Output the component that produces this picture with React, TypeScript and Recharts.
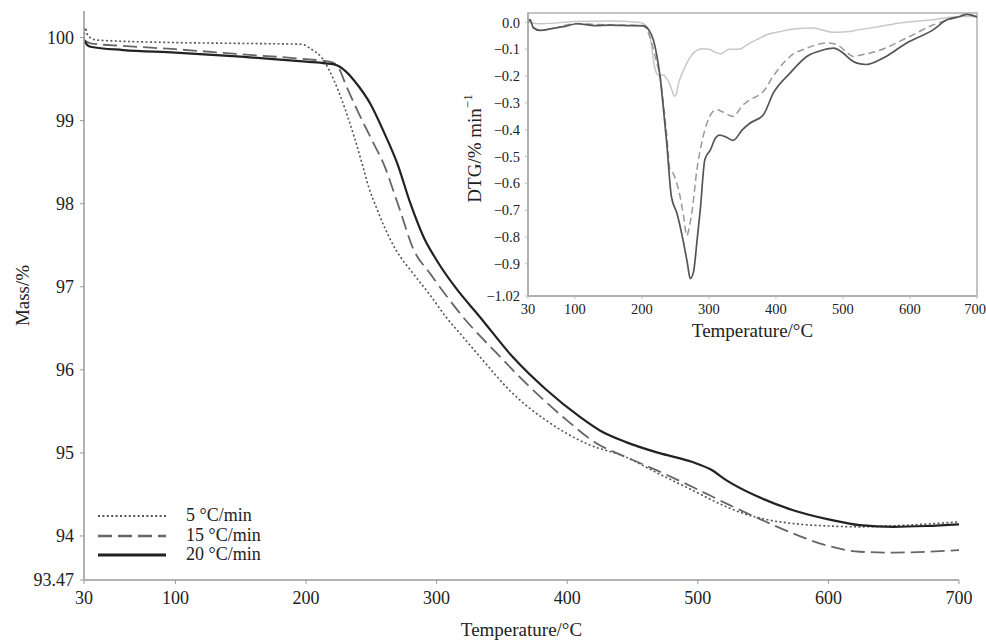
import React from 'react';
import { LineChart, Line, XAxis, YAxis, Legend, Label, ReferenceArea } from 'recharts';

const serif = '"Liberation Serif", "Times New Roman", serif';

// TG curves (mass % vs temperature) for each heating rate
const temps5 = [30, 31, 33, 40, 100, 150, 196, 205, 212, 218, 225, 231, 237, 243, 248, 254, 260, 269, 282, 295, 307, 320, 333, 358, 384, 415, 445, 470, 496, 515, 535, 555, 573, 600, 624, 660, 700];
const mass5 = [99.98, 100.12, 100.02, 99.97, 99.94, 99.93, 99.92, 99.85, 99.76, 99.6, 99.35, 99.09, 98.8, 98.48, 98.2, 97.95, 97.72, 97.44, 97.16, 96.9, 96.64, 96.4, 96.16, 95.72, 95.39, 95.11, 94.95, 94.75, 94.55, 94.4, 94.27, 94.19, 94.15, 94.12, 94.11, 94.13, 94.17];

const temps15 = [30, 35, 60, 100, 150, 200, 218, 224, 231, 240, 250, 261, 267, 272, 282, 295, 308, 320, 346, 371, 397, 422, 445, 470, 496, 522, 548, 573, 600, 624, 650, 675, 700];
const mass15 = [99.97, 99.93, 99.9, 99.86, 99.8, 99.74, 99.71, 99.66, 99.41, 99.1, 98.78, 98.42, 98.15, 97.92, 97.46, 97.16, 96.88, 96.64, 96.2, 95.8, 95.43, 95.12, 94.95, 94.78, 94.59, 94.39, 94.2, 94.03, 93.88, 93.81, 93.8, 93.81, 93.83];

const temps20 = [30, 32, 35, 60, 100, 150, 200, 215, 223, 230, 240, 249, 260, 270, 280, 290, 300, 315, 333, 358, 384, 410, 425, 445, 470, 496, 510, 522, 545, 573, 600, 624, 650, 675, 700];
const mass20 = [99.97, 99.92, 99.89, 99.85, 99.82, 99.77, 99.71, 99.69, 99.67, 99.6, 99.42, 99.21, 98.85, 98.48, 98.0, 97.6, 97.32, 96.98, 96.64, 96.16, 95.76, 95.43, 95.27, 95.13, 95.0, 94.89, 94.8, 94.67, 94.48, 94.31, 94.2, 94.13, 94.11, 94.12, 94.14];

// DTG curves for the inset
const dtgT5 = [30, 50, 100, 150, 197, 205, 210, 214, 217, 222, 227, 232, 237, 242, 245, 248, 251, 254, 260, 267, 275, 282, 290, 300, 310, 318, 330, 345, 361, 375, 386, 405, 426, 456, 472, 486, 505, 525, 555, 585, 635, 675, 700];
const dtg5 = [0.0, -0.005, 0.003, 0.005, 0.0, -0.01, -0.03, -0.08, -0.14, -0.19, -0.2, -0.195, -0.21, -0.233, -0.255, -0.275, -0.27, -0.233, -0.19, -0.152, -0.12, -0.104, -0.098, -0.1, -0.112, -0.117, -0.1, -0.1, -0.077, -0.06, -0.046, -0.035, -0.025, -0.021, -0.03, -0.037, -0.035, -0.027, -0.015, -0.002, 0.01, 0.022, 0.022];

const dtgT15 = [30, 33, 38, 48, 68, 103, 152, 202, 208, 215, 222, 227, 232, 237, 242, 247, 252, 257, 262, 267, 271, 275, 282, 290, 297, 305, 312, 320, 336, 350, 361, 381, 396, 421, 446, 476, 491, 505, 515, 530, 550, 595, 635, 665, 685, 700];
const dtg15 = [0.0, 0.01, -0.02, -0.03, -0.022, -0.005, -0.01, -0.012, -0.03, -0.08, -0.15, -0.2, -0.3, -0.42, -0.55, -0.565, -0.6, -0.65, -0.72, -0.795, -0.76, -0.7, -0.55, -0.44, -0.376, -0.335, -0.326, -0.333, -0.351, -0.31, -0.289, -0.258, -0.2, -0.127, -0.096, -0.077, -0.083, -0.11, -0.127, -0.12, -0.108, -0.058, -0.009, 0.015, 0.03, 0.02];

const dtgT20 = [30, 33, 38, 48, 68, 85, 103, 130, 152, 182, 202, 210, 217, 222, 227, 232, 237, 244, 252, 262, 268, 272, 277, 282, 287, 294, 302, 310, 316, 326, 336, 350, 361, 381, 396, 421, 446, 470, 486, 500, 512, 521, 535, 560, 595, 635, 655, 675, 685, 700];
const dtg20 = [0.0, 0.01, -0.02, -0.03, -0.022, -0.015, -0.005, -0.012, -0.01, -0.012, -0.013, -0.027, -0.065, -0.12, -0.2, -0.32, -0.45, -0.65, -0.71, -0.82, -0.9, -0.955, -0.93, -0.82, -0.7, -0.51, -0.476, -0.43, -0.42, -0.428, -0.44, -0.4, -0.376, -0.345, -0.264, -0.189, -0.127, -0.103, -0.096, -0.114, -0.14, -0.152, -0.157, -0.133, -0.077, -0.027, 0.01, 0.022, 0.03, 0.02];

const tempTicks = [30, 100, 200, 300, 400, 500, 600, 700];
const massTicks = [93.47, 94, 95, 96, 97, 98, 99, 100];
const dtgTicks = [-1.02, -0.9, -0.8, -0.7, -0.6, -0.5, -0.4, -0.3, -0.2, -0.1, 0];

const rateNames = ['5 °C/min', '15 °C/min', '20 °C/min'];

const zip = (t: number[], v: number[]) => t.map((x, i) => ({ t: x, v: v[i] }));

const mainStyles: Record<string, { stroke: string; width: number; dash?: string }> = {
  '5 °C/min': { stroke: '#555', width: 1.6, dash: '2 2.4' },
  '15 °C/min': { stroke: '#666', width: 1.8, dash: '14 6' },
  '20 °C/min': { stroke: '#222', width: 2.2 },
};

const fmtMass = (v: number) => (v === 93.47 ? '93.47' : String(v));
const fmtDtg = (v: number) => {
  if (v === 0) return '0.0';
  if (v === -1.02) return '\u22121.02';
  return '\u2212' + Math.abs(v).toFixed(1);
};

const MassTitle = ({ viewBox }: any) => {
  const cx = viewBox.x + 22;
  const cy = viewBox.y + viewBox.height / 2;
  return (
    <text x={cx} y={cy} transform={`rotate(-90 ${cx} ${cy})`} textAnchor="middle" dominantBaseline="central"
      fontFamily={serif} fontSize={19} fill="#222">
      Mass/%
    </text>
  );
};

const DtgTitle = ({ viewBox }: any) => {
  const cx = viewBox.x + 34;
  const cy = viewBox.y + viewBox.height / 2 - 6;
  return (
    <text x={cx} y={cy} transform={`rotate(-90 ${cx} ${cy})`} textAnchor="middle" dominantBaseline="central"
      fontFamily={serif} fontSize={19} fill="#222">
      <tspan>DTG/% min</tspan>
      <tspan dy={-7} fontSize={13}>{'\u22121'}</tspan>
    </text>
  );
};

// legend rows follow the series order, not the library's sorted payload
const RateLegend = () => (
  <div style={{ fontFamily: serif, fontSize: 18, color: '#222' }}>
    {rateNames.map((name) => {
      const s = mainStyles[name];
      return (
        <div key={name} style={{ display: 'flex', alignItems: 'center', height: 19.5 }}>
          <svg width={88} height={19.5}>
            <line x1={0} x2={68} y1={10} y2={10} stroke={s.stroke} strokeWidth={s.width + 0.6} strokeDasharray={s.dash} />
          </svg>
          <span style={{ lineHeight: '19.5px' }}>{name}</span>
        </div>
      );
    })}
  </div>
);

const App = () => {
  const tickStyle = { fontFamily: serif, fontSize: 18, fill: '#222' };
  const smallTick = { fontFamily: serif, fontSize: 14.5, fill: '#222' };
  const mainSeries = [zip(temps5, mass5), zip(temps15, mass15), zip(temps20, mass20)];
  const dtgSeries = [
    { data: zip(dtgT5, dtg5), stroke: '#c8c8c8', width: 1.5 },
    { data: zip(dtgT15, dtg15), stroke: '#9a9a9a', width: 1.5, dash: '7 4' },
    { data: zip(dtgT20, dtg20), stroke: '#555', width: 1.7 },
  ];

  return (
    <div style={{ position: 'absolute', left: 0, top: 0, width: 986, height: 642, background: '#fff' }}>
      <div style={{ position: 'absolute', left: 0, top: 0 }}>
        <LineChart width={986} height={642} margin={{ top: 11, right: 27, bottom: 0, left: 0 }}>
          <XAxis dataKey="t" type="number" domain={[30, 700]} ticks={tempTicks} allowDataOverflow
            height={62} tick={tickStyle} tickSize={4} tickMargin={7}
            axisLine={{ stroke: '#999', strokeWidth: 1.5 }} tickLine={{ stroke: '#999' }}>
            <Label value="Temperature/°C" position="insideBottom" offset={6}
              style={{ fontFamily: serif, fontSize: 19, fill: '#222' }} />
          </XAxis>
          <YAxis type="number" domain={[93.47, 100.32]} ticks={massTicks} allowDataOverflow width={84}
            tick={tickStyle} tickSize={4} tickMargin={6} tickFormatter={fmtMass}
            axisLine={{ stroke: '#999', strokeWidth: 1.5 }} tickLine={{ stroke: '#999' }}>
            <Label content={<MassTitle />} />
          </YAxis>
          <Legend verticalAlign="middle" align="center" layout="vertical" content={<RateLegend />}
            wrapperStyle={{ left: 98, top: 506, width: 220 }} />
          {rateNames.map((name, i) => (
            <Line key={name} name={name} data={mainSeries[i]} dataKey="v" type="monotone" dot={false}
              stroke={mainStyles[name].stroke} strokeWidth={mainStyles[name].width}
              strokeDasharray={mainStyles[name].dash} isAnimationActive={false} />
          ))}
        </LineChart>
      </div>

      <div style={{ position: 'absolute', left: 440, top: 0 }}>
        <LineChart width={546} height={345} margin={{ top: 13, right: 9, bottom: 0, left: 0 }}>
          <XAxis dataKey="t" type="number" domain={[30, 700]} ticks={tempTicks} allowDataOverflow
            height={49} tick={smallTick} tickSize={3} tickMargin={5}
            axisLine={{ stroke: '#aaa', strokeWidth: 1.5 }} tickLine={{ stroke: '#bbb' }}>
            <Label value="Temperature/°C" position="insideBottom" offset={8}
              style={{ fontFamily: serif, fontSize: 19, fill: '#222' }} />
          </XAxis>
          <YAxis type="number" domain={[-1.02, 0.035]} ticks={dtgTicks} allowDataOverflow width={88}
            tick={smallTick} tickSize={3} tickMargin={5} tickFormatter={fmtDtg}
            axisLine={{ stroke: '#aaa', strokeWidth: 1.5 }} tickLine={{ stroke: '#bbb' }}>
            <Label content={<DtgTitle />} />
          </YAxis>
          <ReferenceArea x1={30} x2={700} y1={-1.02} y2={0.035} fill="none" stroke="#b0b0b0" strokeWidth={1.5} />
          {dtgSeries.map((s, i) => (
            <Line key={i} data={s.data} dataKey="v" type="monotone" dot={false} stroke={s.stroke}
              strokeWidth={s.width} strokeDasharray={s.dash} isAnimationActive={false} />
          ))}
        </LineChart>
      </div>
    </div>
  );
};

export default App;
